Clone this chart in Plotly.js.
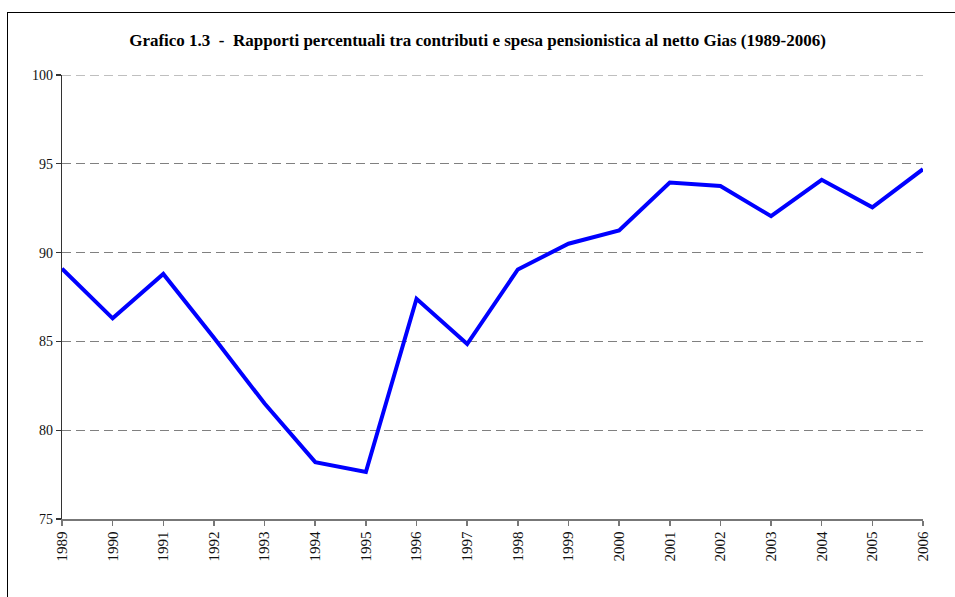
<!DOCTYPE html>
<html>
<head>
<meta charset="utf-8">
<script src="https://cdn.plot.ly/plotly-3.0.1.min.js"></script>
<style>
  html, body { margin: 0; padding: 0; background: #fff; }
  #wrap { position: relative; width: 955px; height: 597px; overflow: hidden; }
  #frame { position: absolute; left: 7px; top: 12px; width: 960px; height: 600px;
           border-left: 1.5px solid #000; border-top: 1.5px solid #000; pointer-events: none; }
  #chart { position: absolute; left: 0; top: 0; width: 955px; height: 597px; }
</style>
</head>
<body>
<div id="wrap">
  <div id="chart"></div>
  <div id="frame"></div>
</div>
<script>
// Anni e rapporto percentuale contributi / spesa pensionistica al netto Gias
const years = ['1989','1990','1991','1992','1993','1994','1995','1996','1997',
               '1998','1999','2000','2001','2002','2003','2004','2005','2006'];
const ratio = [89.1, 86.3, 88.8, 85.2, 81.5, 78.2, 77.65, 87.4, 84.85,
               89.05, 90.5, 91.25, 93.95, 93.75, 92.05, 94.1, 92.55, 94.7];
const yTicks = [75, 80, 85, 90, 95, 100];

const trace = {
  x: years.map(Number),
  y: ratio,
  type: 'scatter',
  mode: 'lines',
  line: { color: '#0000ff', width: 4 },
  hoverinfo: 'x+y'
};

const serif = 'Liberation Serif, Times New Roman, serif';
const gridStyle = { color: '#808080', width: 1.2, dash: '9px,5px' };

// The top gridline sits on the plot edge, so it is drawn as a shape
const topGrid = {
  type: 'line', xref: 'paper', yref: 'y', layer: 'below',
  x0: 0, x1: 1, y0: yTicks[yTicks.length - 1], y1: yTicks[yTicks.length - 1],
  line: gridStyle
};

const layout = {
  width: 955,
  height: 597,
  margin: { l: 62, r: 32, t: 75, b: 78 },
  paper_bgcolor: '#fff',
  plot_bgcolor: '#fff',
  showlegend: false,
  shapes: [topGrid],
  title: {
    text: '<b>Grafico 1.3  -  Rapporti percentuali tra contributi e spesa pensionistica al netto Gias (1989-2006)</b>',
    font: { family: serif, size: 17, color: '#000' },
    x: 0.5, xanchor: 'center',
    y: 1 - 40 / 597, yanchor: 'middle', yref: 'container'
  },
  xaxis: {
    range: [1989, 2006],
    tickmode: 'array',
    tickvals: years.map(Number),
    ticktext: years,
    tickangle: -90,
    ticks: 'outside',
    ticklen: 5,
    tickcolor: '#777',
    tickwidth: 1.5,
    showline: true,
    linecolor: '#777',
    linewidth: 1.5,
    showgrid: false,
    zeroline: false,
    tickfont: { family: serif, size: 15, color: '#111' }
  },
  yaxis: {
    range: [75, 100],
    tickmode: 'array',
    tickvals: yTicks,
    ticktext: yTicks.map(String),
    ticks: 'outside',
    ticklen: 5,
    tickcolor: '#333',
    tickwidth: 1.2,
    showline: true,
    linecolor: '#333',
    linewidth: 1.2,
    showgrid: true,
    gridcolor: gridStyle.color,
    gridwidth: gridStyle.width,
    griddash: gridStyle.dash,
    zeroline: false,
    tickfont: { family: serif, size: 14, color: '#111' }
  }
};

Plotly.newPlot('chart', [trace], layout, { displayModeBar: false, staticPlot: true });
</script>
</body>
</html>
